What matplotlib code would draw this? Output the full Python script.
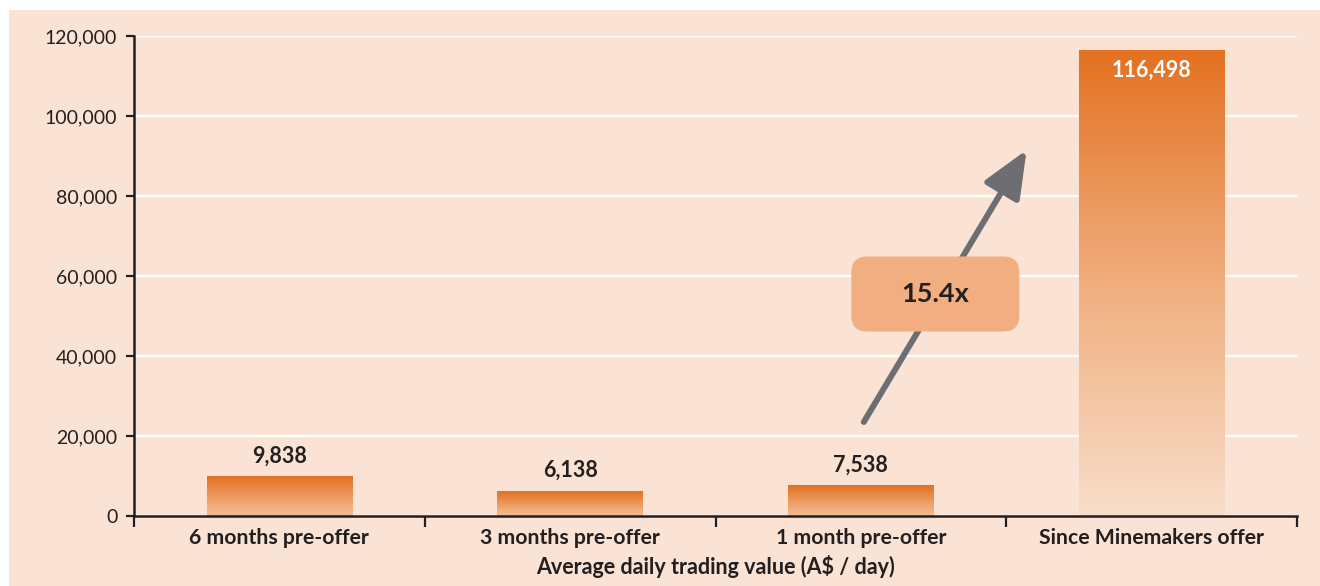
import numpy as np
import matplotlib.pyplot as plt
from matplotlib.colors import LinearSegmentedColormap
from matplotlib.patches import Rectangle, FancyBboxPatch

# data
categories = ['6 months pre-offer', '3 months pre-offer', '1 month pre-offer', 'Since Minemakers offer']
values = [9838, 6138, 7538, 116498]
value_labels = ['9,838', '6,138', '7,538', '116,498']
yticks = [0, 20000, 40000, 60000, 80000, 100000, 120000]
ytick_labels = ['0', '20,000', '40,000', '60,000', '80,000', '100,000', '120,000']
multiple_label = '15.4x'

BG = '#FAE3D4'
ORANGE = '#E37121'
GREY = '#6D6E71'
TXT = '#231F20'

plt.rcParams['font.family'] = ['Lato', 'DejaVu Sans']

fig = plt.figure(figsize=(13.2, 5.86), dpi=100)
fig.patch.set_facecolor('white')
fig.patches.append(Rectangle((9 / 1320, 0), 1, 1 - 10 / 586, transform=fig.transFigure,
                             facecolor=BG, edgecolor='none', zorder=-10))

ax = fig.add_axes([134 / 1320, 1 - 516 / 586, (1297 - 134) / 1320, (516 - 36) / 586])
ax.set_facecolor(BG)

# gradient bars
cmap = LinearSegmentedColormap.from_list('bar', ['#F8DDC9', '#F0AE7E', ORANGE])
grad = np.linspace(0, 1, 256).reshape(-1, 1)
w = 0.5
for i, v in enumerate(values):
    g = grad if v > 50000 else np.linspace(0.35, 1, 256).reshape(-1, 1)
    ax.imshow(g, cmap=cmap, vmin=0, vmax=1, origin='lower', aspect='auto',
              extent=(i - w / 2, i + w / 2, 0, v), zorder=2, interpolation='bilinear')
ax.set_xlim(-0.5, 3.5)
ax.set_ylim(0, 120000)

for i, (v, lab) in enumerate(zip(values, value_labels)):
    if v > 50000:
        ax.text(i, v - 2300, lab, ha='center', va='top', color='white',
                fontsize=15.5, fontweight='bold', zorder=4)
    else:
        ax.text(i, v + 2600, lab, ha='center', va='bottom', color=TXT,
                fontsize=15.5, fontweight='bold', zorder=4)

# grid
ax.set_yticks(yticks)
ax.set_yticklabels(ytick_labels)
ax.grid(axis='y', color='white', lw=1.6)
ax.set_axisbelow(True)

for s in ['top', 'right']:
    ax.spines[s].set_visible(False)
for s in ['left', 'bottom']:
    ax.spines[s].set_linewidth(1.8)
    ax.spines[s].set_color(TXT)

ax.tick_params(axis='y', direction='out', length=6, width=1.6, color=TXT,
               labelsize=14, labelcolor=TXT, pad=6)
ax.set_xticks(range(len(categories)))
ax.set_xticklabels(categories, fontweight='bold')
ax.set_xticks(np.arange(-0.5, len(categories), 1), minor=True)
ax.tick_params(axis='x', which='major', length=0, pad=9, labelsize=15.3, labelcolor=TXT)
ax.tick_params(axis='x', which='minor', length=8, width=1.6, color=TXT, direction='out')
ax.set_xlabel('Average daily trading value (A$ / day)', fontsize=15.5, fontweight='bold',
              color=TXT, labelpad=5)

# growth arrow
ax.annotate('', xy=(2.57, 91500), xytext=(2.01, 23500),
            arrowprops=dict(arrowstyle='-|>,head_length=1.45,head_width=0.62',
                            mutation_scale=20, color=GREY, lw=4.3,
                            shrinkA=0, shrinkB=0), zorder=3)

# multiple box
fig.canvas.draw()
bb = ax.get_window_extent()
px_x = 4.0 / bb.width
px_y = 120000.0 / bb.height
bw, bh = 168 * px_x, 75 * px_y
cx, cy = 2.256, 55500
box = FancyBboxPatch((cx - bw / 2, cy - bh / 2), bw, bh,
                     boxstyle='round,pad=0,rounding_size=%f' % (16 * px_x),
                     mutation_aspect=px_y / px_x, facecolor='#F1AF81',
                     edgecolor='none', zorder=5)
ax.add_patch(box)
ax.text(cx, cy, multiple_label, ha='center', va='center', fontsize=19.5,
        fontweight='bold', color=TXT, zorder=6)

fig.savefig('out.png', dpi=100, facecolor='white')
